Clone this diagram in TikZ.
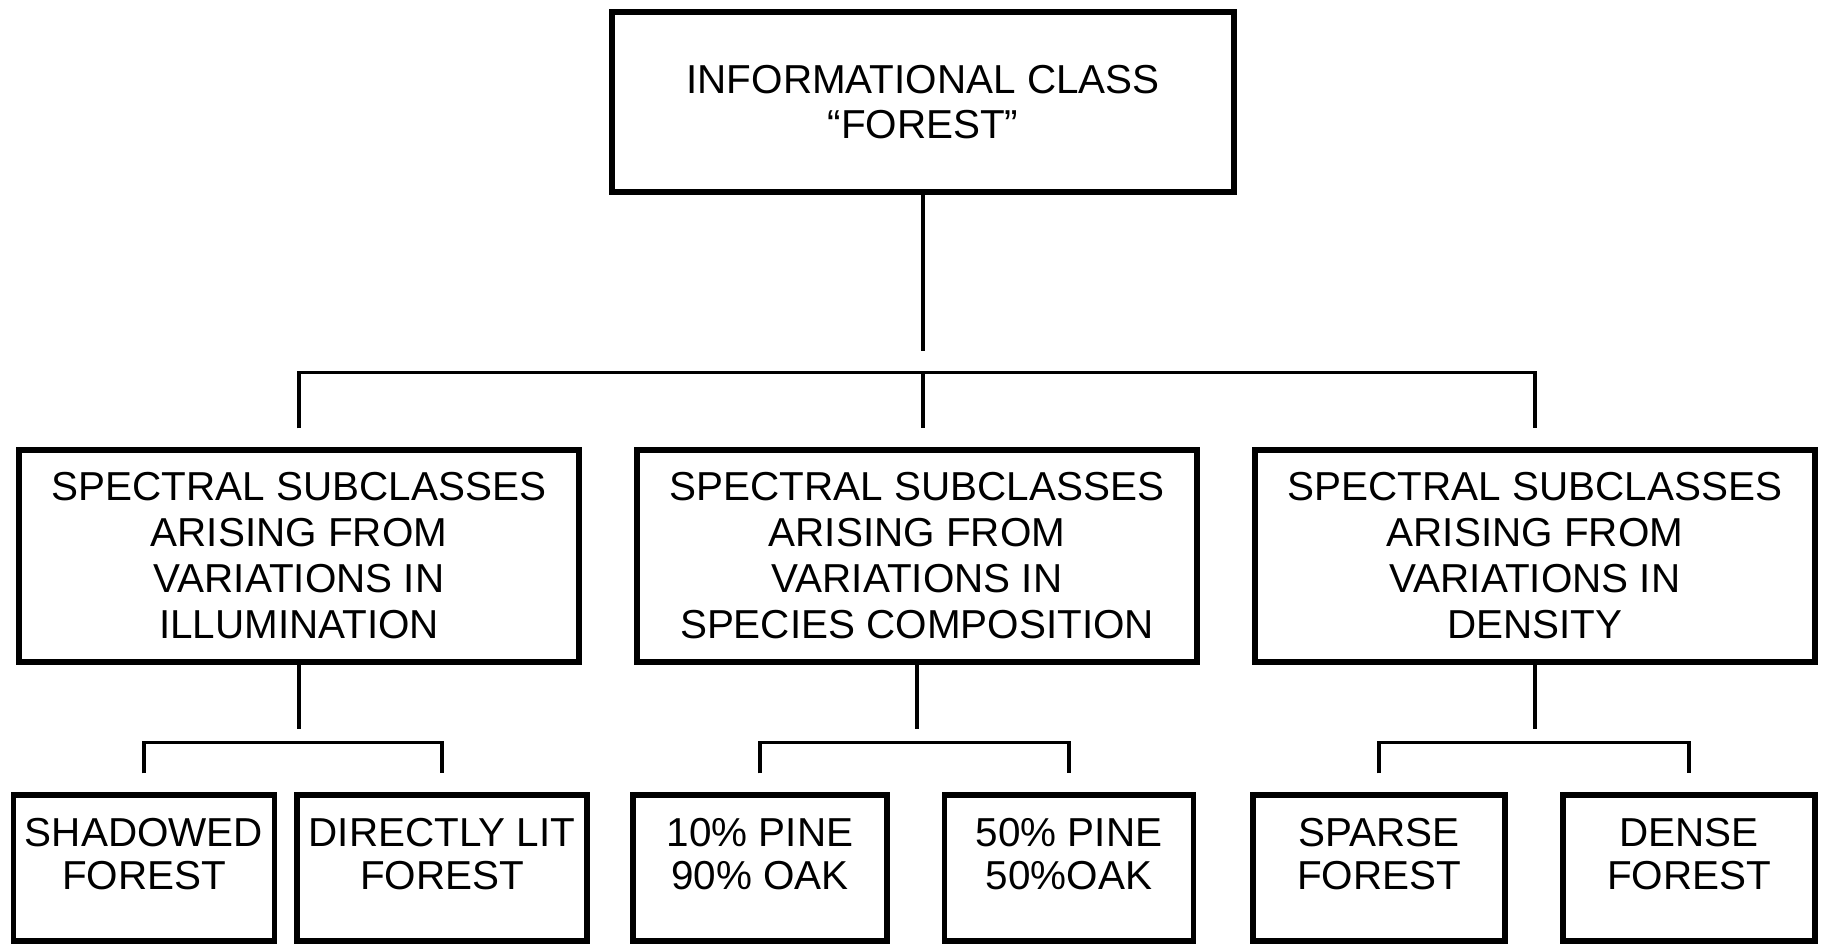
\documentclass[tikz,border=0pt]{standalone}
\usepackage{fontspec}
\setmainfont{Liberation Sans}
\usepackage{tikz}
\usetikzlibrary{positioning}
\tikzset{
  classbox/.style={rectangle, draw=black, line width=1.5pt, fill=white, align=center,
                   minimum width=6.22cm, minimum height=1.80cm, font=\fontsize{11.5}{12.6}\selectfont},
  subbox/.style={classbox, minimum width=5.60cm, minimum height=2.12cm, font=\fontsize{11.5}{13.1}\selectfont},
  leafbox/.style={classbox, minimum height=1.46cm, font=\fontsize{11.5}{12}\selectfont},
  link/.style={line width=0.9pt},
  gap/.style={shorten <=1.9mm, shorten >=1.9mm},
}

\begin{document}
\begin{tikzpicture}
\useasboundingbox (0,0) rectangle (18.22,-9.46);
\node[classbox] (top) at (9.23,-1.02) {INFORMATIONAL CLASS\\“FOREST”};

\node[subbox] (illum) at (2.99,-5.56)
 {SPECTRAL SUBCLASSES\\ARISING FROM\\VARIATIONS IN\\ILLUMINATION};
\node[subbox] (species) at (9.17,-5.56)
 {SPECTRAL SUBCLASSES\\ARISING FROM\\VARIATIONS IN\\SPECIES COMPOSITION};
\node[subbox] (density) at (15.35,-5.56)
 {SPECTRAL SUBCLASSES\\ARISING FROM\\VARIATIONS IN\\DENSITY};

\node[leafbox, minimum width=2.47cm] (shadow) at (1.44,-8.68) {SHADOWED\\FOREST\\[-4pt]\mbox{}};
\node[leafbox, minimum width=2.79cm] (lit) at (4.42,-8.68) {DIRECTLY LIT\\FOREST\\[-4pt]\mbox{}};
\node[leafbox, minimum width=2.54cm] (pineten) at (7.60,-8.68) {10\% PINE\\90\% OAK\\[-4pt]\mbox{}};
\node[leafbox, minimum width=2.49cm] (pinefifty) at (10.69,-8.68) {50\% PINE\\50\%OAK\\[-4pt]\mbox{}};
\node[leafbox, minimum width=2.52cm] (sparse) at (13.79,-8.68) {SPARSE\\FOREST\\[-4pt]\mbox{}};
\node[leafbox, minimum width=2.52cm] (dense) at (16.89,-8.68) {DENSE\\FOREST\\[-4pt]\mbox{}};

% top level
\coordinate (hub) at ([yshift=-1.78cm]top.south);
\draw[link] (top.south) -- ([yshift=2.2mm]hub);
\draw[link, gap] (illum.north) |- (hub) -| (density.north);
\draw[link, shorten >=1.9mm] (hub) -- (hub |- species.north);

% subclasses
\draw[link] (illum.south) -- ++(0,-0.64);
\draw[link, gap] (shadow.north) -- ++(0,0.5) -| (lit.north);
\draw[link] (species.south) -- ++(0,-0.64);
\draw[link, gap] (pineten.north) -- ++(0,0.5) -| (pinefifty.north);
\draw[link] (density.south) -- ++(0,-0.64);
\draw[link, gap] (sparse.north) -- ++(0,0.5) -| (dense.north);
\end{tikzpicture}
\end{document}
